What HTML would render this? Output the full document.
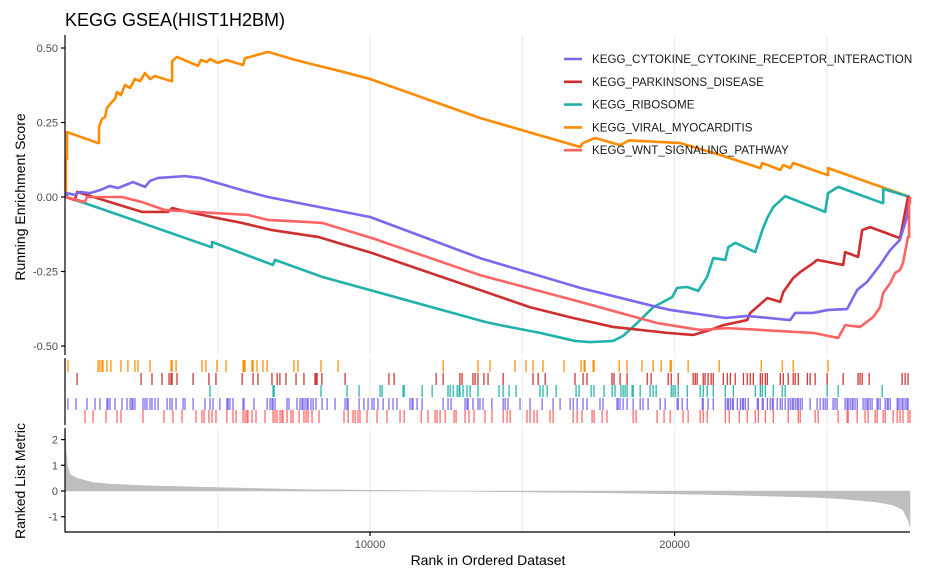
<!DOCTYPE html>
<html><head><meta charset="utf-8">
<style>
body{margin:0;background:#fff;}
svg{display:block;font-family:"Liberation Sans",sans-serif;}
</style></head>
<body>
<svg id="chart" width="925" height="583" viewBox="0 0 925 583" xmlns="http://www.w3.org/2000/svg">
<text x="65" y="26" font-size="18" fill="#000">KEGG GSEA(HIST1H2BM)</text>
<g id="grid"></g>
<g id="curves"></g>
<g id="rugs"></g>
<g id="metric"></g>
<g id="axes"></g>
<g id="legend"></g>
<text transform="translate(25,197) rotate(-90)" text-anchor="middle" font-size="14">Running Enrichment Score</text>
<text transform="translate(25,481) rotate(-90)" text-anchor="middle" font-size="14">Ranked List Metric</text>
<text x="488" y="565" text-anchor="middle" font-size="14">Rank in Ordered Dataset</text>
</svg>
<script>
const setNames = ["KEGG_CYTOKINE_CYTOKINE_RECEPTOR_INTERACTION","KEGG_PARKINSONS_DISEASE","KEGG_RIBOSOME","KEGG_VIRAL_MYOCARDITIS","KEGG_WNT_SIGNALING_PATHWAY"];
const setColors = ["#7B68EE","#CD2E2E","#20B2AA","#FF8C00","#FF6464"];
const esTicks = [0.5,0.25,0,-0.25,-0.5];
const esTickLabels = ["0.50","0.25","0.00","-0.25","-0.50"];
const metricTicks = [2,1,0,-1];
const rankTicks = [10000,20000];
const gridRanks = [5000,10000,15000,20000,25000];
const nGenes = 27730;

const esCytokine = [[0,0],[50,.013],[310,.007],[475,.017],[805,.013],[1130,.023],[1460,.037],[1725,.030],[2215,.050],[2610,.034],[2775,.054],[3040,.064],[3925,.07],[4415,.064],[5795,.023],[6650,0],[10000,-.067],[13610,-.205],[16900,-.305],[19425,-.369],[19855,-.379],[21665,-.406],[22385,-.399],[23795,-.413],[23960,-.389],[24550,-.389],[25040,-.379],[25665,-.376],[25995,-.312],[26320,-.285],[26750,-.228],[27080,-.178],[27400,-.144],[27630,-.067],[27730,0]];
const esParkinsons = [[0,0],[310,-.01],[380,.017],[2510,-.050],[3365,-.050],[3500,-.037],[4020,-.050],[4810,-.067],[5795,-.087],[6780,-.111],[8290,-.134],[9180,-.161],[10065,-.188],[13610,-.312],[15255,-.37],[16670,-.406],[17980,-.436],[19755,-.456],[20610,-.463],[21170,-.446],[21600,-.430],[22385,-.413],[22485,-.389],[23045,-.339],[23470,-.352],[23570,-.319],[23895,-.272],[24125,-.252],[24550,-.222],[24680,-.211],[25535,-.228],[25600,-.185],[26025,-.201],[26160,-.111],[26420,-.101],[27400,-.138],[27500,-.087],[27665,0],[27730,0]];
const esRibosome = [[0,0],[705,-.023],[4780,-.168],[4810,-.151],[6810,-.228],[6880,-.211],[8425,-.268],[13775,-.419],[14270,-.43],[15580,-.456],[16730,-.483],[17225,-.487],[17980,-.483],[18310,-.466],[18770,-.423],[19295,-.37],[19920,-.336],[20085,-.305],[20415,-.302],[20775,-.315],[21070,-.268],[21270,-.205],[21665,-.211],[21765,-.168],[21995,-.154],[22650,-.185],[22880,-.111],[23045,-.070],[23240,-.034],[23630,.003],[24945,-.050],[25040,.013],[25370,.034],[26815,-.020],[26850,.027],[27730,0]];
const esViral = [[0,0],[15,.128],[50,.218],[1070,.181],[1100,.235],[1200,.262],[1300,.268],[1360,.299],[1490,.315],[1625,.329],[1690,.352],[1820,.342],[1955,.376],[2120,.366],[2280,.396],[2450,.389],[2610,.416],[2775,.396],[2940,.406],[3465,.389],[3500,.456],[3660,.470],[4350,.440],[4450,.460],[4645,.453],[4745,.463],[5010,.450],[5270,.460],[5830,.443],[5895,.466],[6060,.470],[6650,.487],[7540,.460],[8195,.443],[8885,.426],[10000,.396],[13610,.265],[16900,.168],[16990,.181],[17390,.198],[18210,.174],[18500,.190],[20185,.181],[21500,.141],[22815,.097],[22880,.114],[23470,.091],[23570,.107],[23795,.097],[23895,.114],[25010,.074],[25040,.097],[27730,0]];
const esWnt = [[0,0],[640,-.017],[705,0],[1855,0],[2510,-.017],[3270,-.044],[4910,-.054],[5990,-.060],[6650,-.077],[7965,-.084],[8425,-.087],[10065,-.138],[13610,-.262],[16900,-.352],[19425,-.423],[20840,-.446],[21730,-.440],[24550,-.456],[25370,-.473],[25600,-.430],[26090,-.436],[26520,-.403],[26750,-.369],[26850,-.322],[27080,-.289],[27240,-.255],[27400,-.245],[27500,-.221],[27665,-.134],[27700,-.02],[27730,0]];

const hitsViral = [80,1070,1130,1200,1230,1360,1490,1820,2050,2280,2380,2775,3465,3500,3630,4480,4610,4975,5270,5830,5860,5895,6125,6160,6290,6485,6620,7500,7635,8390,8950,12400,13545,13940,14760,15120,15350,15680,16370,16930,17030,17060,17325,17355,18180,18440,18930,19295,19560,19855,19890,20445,21465,22845,23535,23895,25040];
const hitsParkinsons = [380,2480,2840,3170,3400,3465,3500,3660,4190,4710,4940,5800,6160,6320,6780,6950,7040,7240,7570,7830,8195,8225,8260,8420,9180,10620,10790,12170,12400,12950,13020,13380,13450,13545,13740,13875,14370,15350,15520,15750,16730,16995,17125,17945,18010,18210,18440,19100,19230,19790,19890,20120,20610,20680,20740,20940,21000,21100,21200,21270,21600,21730,21830,21990,22260,22385,22485,22585,22815,22880,22980,23045,23470,23570,23730,23895,23960,24060,24360,24450,24615,25010,25535,26025,26090,26160,26390,27470,27570,27665];
const hitsRibosome = [4745,6815,6850,8390,9245,9640,10330,10395,11085,11120,11710,12040,12560,12630,12730,12860,12925,12950,13055,13185,13285,13545,14235,14370,14565,14795,15580,15680,15815,16110,16765,16865,17260,17355,17685,17950,18045,18240,18310,18375,18440,18605,18640,18870,19195,19295,19395,19890,19950,20020,20120,20415,20840,20940,21070,21270,21665,21930,22650,22815,22880,22980,23240,23535,23630,25010,25370,26815];
const hitsCytokine = [80,345,705,970,1130,1360,1395,1460,1625,1855,2020,2120,2180,2215,2280,2545,2610,2675,2775,2840,2940,3040,3335,3430,3500,3630,3860,3925,4190,4580,4745,4845,5070,5300,5340,5400,5500,5830,5860,6190,6620,6715,6780,6815,6880,7275,7340,7600,7700,7765,7800,7865,7930,7965,8060,8130,8225,8425,8590,8850,9180,9245,9280,9640,9800,9935,10065,10130,10260,10430,10620,10755,10885,11310,11380,11410,11545,11710,12400,12560,12660,13120,13185,13220,13380,13545,13610,13710,14000,14370,14435,14530,14925,15255,15650,16010,16240,16570,16670,16800,16995,17125,17550,17650,18110,18145,18210,18310,18440,18640,18870,18965,19130,19525,19690,20085,20120,20250,20415,20910,20940,21100,21270,21665,21730,21765,21830,21895,21930,22060,22160,22225,22260,22320,22420,22715,22750,22880,22910,23045,23140,23210,23240,23370,23470,23535,23630,23730,23795,23860,23895,23960,24025,24060,24125,24190,24450,24680,24780,24880,24945,25010,25205,25270,25335,25600,25665,25700,25765,25830,25860,25925,25995,26190,26255,26320,26355,26420,26485,26650,26685,26750,26915,26980,27015,27080,27310,27340,27400,27470,27500,27570,27630,27665];
const hitsWnt = [640,905,1330,1690,1820,2545,3235,3530,3825,4285,4480,4550,4710,4810,4940,5300,5500,5600,5830,5895,5960,5990,6125,6255,6550,6815,6880,6945,7045,7110,7140,7275,7405,7470,7670,7830,7900,7965,8095,8325,9145,9280,9440,9510,9605,9670,9900,10230,10555,10985,11120,11680,11905,12135,12200,12300,12465,12760,12825,13120,13250,13415,13775,14005,14370,14500,14600,15155,15255,15385,15485,15910,16010,16670,16800,16960,17290,17355,17620,17780,18640,18735,19425,19655,19855,20280,20445,20840,20940,21070,21665,21795,22125,22385,22650,22750,22980,23240,23730,24060,24125,24615,24715,25370,25665,25700,25995,26255,26355,26585,26650,26850,26915,27175,27310,27400,27500,27665,27730];

const metricRanks = [0,20,60,150,380,905,1460,2775,5500,8030,11215,12400,13000,18400,21270,23240,24680,25535,26650,27175,27500,27665,27730];
const metricValues = [2.4,1.6,1.0,0.65,0.5,0.33,0.27,0.2,0.12,0.05,0.02,0,-0.01,-0.08,-0.14,-0.2,-0.25,-0.31,-0.43,-0.55,-0.74,-1.13,-1.4];

const NS = "http://www.w3.org/2000/svg";
const X0 = 65.5, X1 = 910;
const xS = r => X0 + r / nGenes * (X1 - X0);
const yES = v => 197 - v * 298;
const yM = v => 491 - v * 25.7;
function mk(tag, parent, attrs){const e=document.createElementNS(NS,tag);for(const k in attrs)e.setAttribute(k,attrs[k]);parent.appendChild(e);return e;}

const grid = document.getElementById('grid');
gridRanks.forEach(r=>{
  [[35,355],[358,425],[428,532]].forEach(([a,b])=>{
    const l = mk('line',grid,{x1:xS(r),x2:xS(r),y1:a,y2:b,stroke:'#ebebeb','stroke-width':1.1});
    
    
  });
});

const esSeries = [esCytokine, esParkinsons, esRibosome, esViral, esWnt];
const curves = document.getElementById('curves');
[3,2,1,0,4].forEach(i=>{
  let d = '';
  esSeries[i].forEach((p,j)=>{
    const x = xS(p[0]).toFixed(2), y = yES(p[1]).toFixed(2);
    if (j === 0) { d += 'M'+x+','+y; return; }
    const prev = esSeries[i][j-1];
    if (p[1] > prev[1] && p[0]-prev[0] < 60) d += 'L'+x+','+yES(prev[1]).toFixed(2);
    d += 'L'+x+','+y;
  });
  const p = mk('path',curves,{d:d,fill:'none',stroke:setColors[i],'stroke-width':2.6,'stroke-linejoin':'round'});
  
  
});

const rugRows = [[hitsViral,3,360,372],[hitsParkinsons,1,373,385],[hitsRibosome,2,385,397],[hitsCytokine,0,398,410],[hitsWnt,4,410,423]];
const rugs = document.getElementById('rugs');
rugRows.forEach(([hits,ci,a,b])=>{
  hits.forEach(r=>{
    const l = mk('line',rugs,{x1:xS(r),x2:xS(r),y1:a,y2:b,stroke:setColors[ci],'stroke-width':1.3,'stroke-opacity':0.95});
    
    
  });
});

const metric = document.getElementById('metric');
let md = 'M'+xS(metricRanks[0])+','+yM(0);
metricRanks.forEach((r,i)=>{ md += 'L'+xS(r).toFixed(2)+','+yM(metricValues[i]).toFixed(2); });
md += 'L'+xS(metricRanks[metricRanks.length-1])+','+yM(0)+'Z';
const area = mk('path',metric,{d:md,fill:'#bebebe',stroke:'#bebebe','stroke-width':0.5});



const axes = document.getElementById('axes');
function line(x1,y1,x2,y2,name){const l=mk('line',axes,{x1,y1,x2,y2,stroke:'#000','stroke-width':1.2});}
line(65,35,65,355,'es-y-axis');
line(65,358,65,425,'rug-y-axis');
line(65,428,65,532.5,'metric-y-axis');
line(65,532,910,532,'x-axis');
esTicks.forEach((v,i)=>{
  line(61,yES(v),65,yES(v),'es-y-tick');
  const t = mk('text',axes,{x:58,y:yES(v)+4,'text-anchor':'end','font-size':11,fill:'#4d4d4d'});
  t.textContent = esTickLabels[i];
  
  
});
metricTicks.forEach(v=>{
  line(61,yM(v),65,yM(v),'metric-y-tick');
  const t = mk('text',axes,{x:58,y:yM(v)+4,'text-anchor':'end','font-size':11,fill:'#4d4d4d'});
  t.textContent = String(v);
  
  
});
rankTicks.forEach(r=>{
  line(xS(r),532,xS(r),536,'x-tick');
  const t = mk('text',axes,{x:xS(r),y:548,'text-anchor':'middle','font-size':11,fill:'#4d4d4d'});
  t.textContent = String(r);
  
  
});

const legend = document.getElementById('legend');
setNames.forEach((n,i)=>{
  const y = 59 + i*22.8;
  const g = mk('g',legend,{});
  
  
  mk('line',g,{x1:564,x2:582,y1:y,y2:y,stroke:setColors[i],'stroke-width':2.6});
  const t = mk('text',g,{x:592,y:y+4,'font-size':11.6,fill:'#1a1a1a'});
  t.textContent = n;
});
</script>
</body></html>
